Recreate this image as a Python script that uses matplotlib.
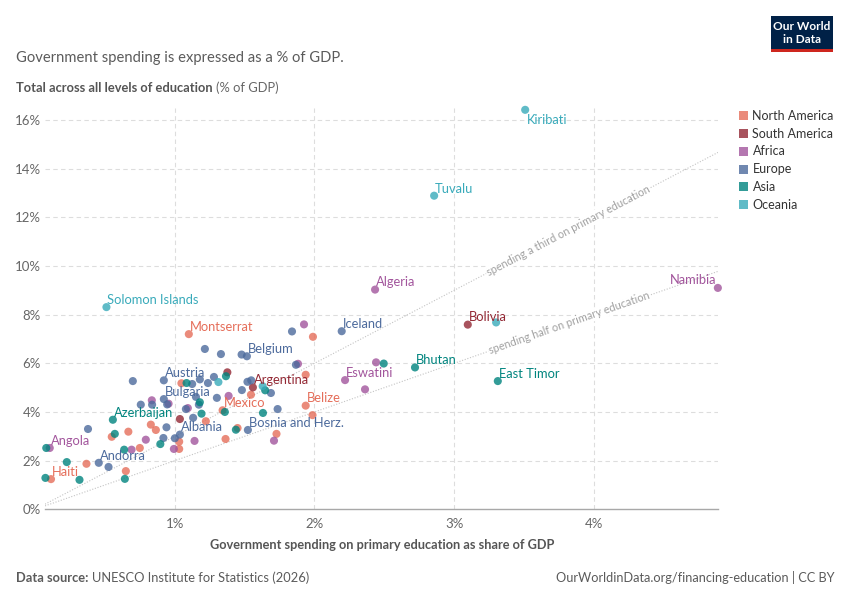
import math
import matplotlib
matplotlib.use('Agg')
import matplotlib.pyplot as plt
from matplotlib.patches import Rectangle

plt.rcParams['font.family'] = ['Lato', 'DejaVu Sans']

# data (% of GDP): primary spending (x) vs total education spending (y)
na_names = ['Montserrat', 'Belize', 'Mexico', 'Haiti'] + [''] * 18
na_x = [1.100, 1.937, 1.342, 0.113, 1.989, 1.937, 1.986, 1.728, 1.545, 1.449, 1.363,
        1.047, 1.222, 1.031, 1.031, 0.749, 0.667, 0.828, 0.864, 0.548, 0.367, 0.649]
na_y = [7.20, 4.26, 4.07, 1.24, 7.09, 5.53, 3.87, 3.10, 4.71, 3.34, 2.89,
        5.18, 3.62, 2.78, 2.48, 2.52, 3.19, 3.48, 3.26, 2.98, 1.87, 1.57]

sa_names = ['Bolivia', 'Argentina', '', '']
sa_x = [3.098, 1.559, 1.376, 1.036]
sa_y = [7.59, 5.01, 5.63, 3.71]

af_names = ['Namibia', 'Algeria', 'Eswatini', 'Angola'] + [''] * 13
af_x = [4.889, 2.434, 2.219, 0.104, 1.925, 1.882, 2.441, 2.362, 1.710, 1.385, 1.093,
        1.141, 0.993, 0.835, 0.955, 0.792, 0.690]
af_y = [9.10, 9.03, 5.31, 2.52, 7.60, 5.98, 6.04, 4.93, 2.82, 4.66, 4.16,
        2.81, 2.48, 4.48, 4.34, 2.86, 2.45]

eu_names = ['Iceland', 'Belgium', 'Bosnia and Herz.', 'Austria', 'Bulgaria',
            'Albania', 'Andorra'] + [''] * 28
eu_x = [2.195, 1.516, 1.523, 0.921, 0.921, 1.036, 0.455, 1.839, 1.867, 1.736, 1.688,
        1.478, 1.330, 1.215, 1.520, 1.547, 1.480, 1.301, 1.280, 1.237, 1.179, 1.124,
        0.699, 1.151, 1.172, 1.079, 1.131, 0.945, 0.837, 0.756, 0.940, 1.000, 0.918,
        0.378, 0.525]
eu_y = [7.32, 6.29, 3.26, 5.30, 4.53, 3.07, 1.91, 7.31, 5.94, 4.12, 4.78,
        6.36, 6.38, 6.59, 5.24, 5.30, 4.90, 4.58, 5.44, 5.19, 5.34, 5.15,
        5.27, 4.62, 4.30, 4.12, 3.76, 4.31, 4.30, 4.30, 3.37, 2.92, 2.93,
        3.30, 1.74]

as_names = ['Bhutan', 'East Timor', 'Azerbaijan'] + [''] * 17
as_x = [2.720, 3.313, 0.556, 2.496, 1.647, 1.631, 1.437, 1.358, 1.366, 1.084, 1.179,
        1.191, 0.896, 0.637, 0.570, 0.079, 0.226, 0.317, 0.642, 0.073]
as_y = [5.83, 5.27, 3.68, 5.99, 4.89, 3.96, 3.27, 4.00, 5.47, 5.19, 4.40,
        3.93, 2.68, 2.45, 3.10, 2.52, 1.94, 1.21, 1.25, 1.29]

oc_names = ['Kiribati', 'Tuvalu', 'Solomon Islands', '', '', '']
oc_x = [3.509, 2.857, 0.510, 1.629, 1.312, 3.301]
oc_y = [16.42, 12.89, 8.31, 5.06, 5.23, 7.68]

regions = ['North America', 'South America', 'Africa', 'Europe', 'Asia', 'Oceania']
colors = ['#E56E5A', '#932834', '#A2559C', '#4C6A9C', '#00847E', '#38AABA']
series = [(na_x, na_y, na_names), (sa_x, sa_y, sa_names), (af_x, af_y, af_names),
          (eu_x, eu_y, eu_names), (as_x, as_y, as_names), (oc_x, oc_y, oc_names)]

xticks = [1, 2, 3, 4]
yticks = [0, 2, 4, 6, 8, 10, 12, 14, 16]
ref_lines = [(3, 'spending a third on primary education', 3.816),
             (2, 'spending half on primary education', 3.824)]

fig = plt.figure(figsize=(8.5, 6), dpi=100)
ax = fig.add_axes([45 / 850, 0.1512, 673 / 850, 0.669])
xmin, xmax = 0.07, 4.89
ax.set_xlim(xmin, xmax)
ax.set_ylim(0, 16.5)

for s in ['top', 'right', 'left']:
    ax.spines[s].set_visible(False)
ax.spines['bottom'].set_color('#a8a8a8')
ax.spines['bottom'].set_linewidth(1)

ax.set_xticks(xticks)
ax.set_xticklabels([f'{t}%' for t in xticks])
ax.set_yticks(yticks)
ax.set_yticklabels([f'{t}%' for t in yticks])
ax.tick_params(axis='both', length=0, labelsize=9.5, labelcolor='#666666')
ax.tick_params(axis='y', pad=3)
ax.tick_params(axis='x', pad=6)
for t in yticks[1:]:
    ax.axhline(t, color='#dddddd', linewidth=0.8, linestyle=(0, (4, 3)), zorder=0)
for t in xticks:
    ax.axvline(t, color='#dddddd', linewidth=0.8, linestyle=(0, (4, 3)), zorder=0)

# reference lines
for k, txt, tx in ref_lines:
    ax.plot([xmin, xmax], [k * xmin, k * xmax], color='#c4c4c4', linewidth=0.8,
            linestyle=(0, (1, 1.5)), zorder=1)
    p0 = ax.transData.transform((xmin, k * xmin))
    p1 = ax.transData.transform((xmax, k * xmax))
    ang = math.degrees(math.atan2(p1[1] - p0[1], p1[0] - p0[0]))
    ax.text(tx, k * tx, txt, rotation=ang, rotation_mode='anchor', ha='center',
            va='center', fontsize=7.8, color='#a0a0a0', zorder=2,
            bbox=dict(facecolor='white', edgecolor='none', pad=0.6))

for (xs, ys, names), col in zip(series, colors):
    ax.scatter(xs, ys, s=34, color=col, alpha=0.8, edgecolors='none', zorder=3,
               clip_on=False)

for (xs, ys, names), col in zip(series, colors):
    for x, y, n in zip(xs, ys, names):
        if not n:
            continue
        ha, off = 'left', (0.7, 2.3)
        if n == 'Kiribati':
            off = (1.4, -10)
        if n == 'Namibia':
            ha, off = 'right', (-1.2, 2.9)
        ax.annotate(n, (x, y), xytext=off, textcoords='offset points', ha=ha,
                    va='baseline', fontsize=9.3, color=col, zorder=4)

# legend
leg_y = [115.7, 133.6, 151.4, 169.2, 187.0, 204.7]
for name, col, yy in zip(regions, colors, leg_y):
    fig.patches.append(Rectangle((738.5 / 850, 1 - (yy + 4.5) / 600), 9 / 850, 9 / 600,
                                 transform=fig.transFigure, facecolor=col, alpha=0.8,
                                 edgecolor='none'))
    fig.text(752.5 / 850, 1 - yy / 600, name, fontsize=9, color='#333333', va='center')

# titles
fig.text(16 / 850, 1 - 58 / 600, 'Government spending is expressed as a % of GDP.',
         fontsize=10.65, color='#5b5b5b', va='center')
t1 = fig.text(16 / 850, 1 - 88 / 600, 'Total across all levels of education',
              fontsize=9.3, color='#555555', fontweight='bold', va='center')
r = fig.canvas.get_renderer()
bb = t1.get_window_extent(renderer=r)
fig.text((bb.x1 + 3) / 850, 1 - 88 / 600, '(% of GDP)', fontsize=9.3, color='#666666',
         va='center')
fig.text(382 / 850, 1 - 545 / 600, 'Government spending on primary education as share of GDP',
         fontsize=9.2, color='#555555', fontweight='bold', ha='center', va='center')

# footer
f1 = fig.text(16 / 850, 1 - 578 / 600, 'Data source:', fontsize=9.3, color='#5b5b5b',
              fontweight='bold', va='center')
bb = f1.get_window_extent(renderer=r)
fig.text((bb.x1 + 3) / 850, 1 - 578 / 600, 'UNESCO Institute for Statistics (2026)',
         fontsize=9.3, color='#5b5b5b', va='center')
fig.text(834 / 850, 1 - 578 / 600, 'OurWorldinData.org/financing-education | CC BY',
         fontsize=9.2, color='#5b5b5b', va='center', ha='right')

# logo
fig.patches.append(Rectangle((771 / 850, 1 - 52 / 600), 62 / 850, 36 / 600,
                             transform=fig.transFigure, facecolor='#002147', edgecolor='none'))
fig.patches.append(Rectangle((771 / 850, 1 - 52 / 600), 62 / 850, 3 / 600,
                             transform=fig.transFigure, facecolor='#ce261e', edgecolor='none'))
fig.text(802 / 850, 1 - 27 / 600, 'Our World', fontsize=8.6, color='white', ha='center',
         va='center', fontweight='bold')
fig.text(802 / 850, 1 - 39.5 / 600, 'in Data', fontsize=8.6, color='white', ha='center',
         va='center', fontweight='bold')

fig.savefig('out.png', dpi=100, facecolor='white')
